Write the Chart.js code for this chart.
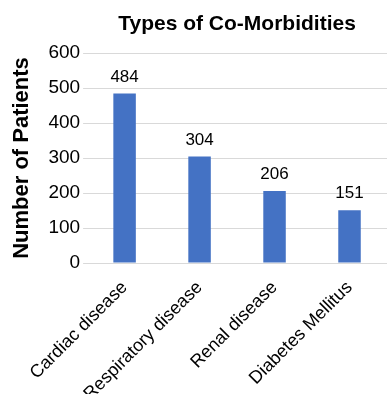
<!DOCTYPE html>
<html>
<head>
<meta charset="utf-8">
<script src="https://cdn.jsdelivr.net/npm/chart.js@4.4.0/dist/chart.umd.min.js"></script>
<style>
  html, body { margin: 0; padding: 0; background: #fff; }
  #wrap { width: 387px; height: 394px; }
</style>
</head>
<body>
<div id="wrap"><canvas id="myChart"></canvas></div>
<script>
const categories = ["Cardiac disease", "Respiratory disease", "Renal disease", "Diabetes Mellitus"];
const patients = [484, 304, 206, 151];
const yTicks = [0, 100, 200, 300, 400, 500, 600];

var fontFamily = '"Liberation Sans", Arial, sans-serif';

// title centred over the plot area, like the original
const titlePlugin = {
  id: 'plotTitle',
  afterDraw(chart) {
    var ctx = chart.ctx;
    var area = chart.chartArea;
    ctx.save();
    ctx.font = 'bold 21px ' + fontFamily;
    ctx.fillStyle = '#000';
    ctx.textAlign = 'center';
    ctx.textBaseline = 'middle';
    ctx.fillText('Types of Co-Morbidities', (area.left + area.right) / 2, 24);
    ctx.restore();
  }
};

// value labels above each bar
const valuePlugin = {
  id: 'valueLabels',
  afterDatasetsDraw(chart) {
    var ctx = chart.ctx;
    var meta = chart.getDatasetMeta(0);
    ctx.save();
    ctx.font = '17px ' + fontFamily;
    ctx.fillStyle = '#000';
    ctx.textAlign = 'center';
    ctx.textBaseline = 'bottom';
    meta.data.forEach(function(bar, i) {
      ctx.fillText(String(patients[i]), bar.x, bar.y - 8);
    });
    ctx.restore();
  }
};

new Chart(document.getElementById('myChart'), {
  type: 'bar',
  data: {
    labels: categories,
    datasets: [{
      data: patients,
      backgroundColor: '#4472C4',
      barPercentage: 0.3,
      categoryPercentage: 1.0
    }]
  },
  options: {
    responsive: true,
    maintainAspectRatio: false,
    animation: false,
    layout: { padding: { top: 53, right: 0, left: 9, bottom: 0 } },
    plugins: {
      legend: { display: false },
      tooltip: { enabled: false },
      title: { display: false }
    },
    scales: {
      x: {
        grid: { display: false, drawTicks: false },
        border: { color: '#d9d9d9' },
        ticks: {
          color: '#000',
          font: { family: fontFamily, size: 18 },
          maxRotation: 45,
          minRotation: 45,
          padding: 14
        },
        // labels run off the bottom edge in the original, so fix the axis height
        afterFit(axis) {
          axis.height = 131;
        }
      },
      y: {
        min: yTicks[0],
        max: yTicks[yTicks.length - 1],
        afterBuildTicks(axis) {
          axis.ticks = yTicks.map(function(v) { return { value: v }; });
        },
        grid: { color: '#d9d9d9', drawTicks: true, tickLength: 4 },
        border: { display: false },
        ticks: {
          color: '#000',
          padding: 3,
          font: { family: fontFamily, size: 19 }
        },
        title: {
          display: true,
          text: 'Number of Patients',
          color: '#000',
          font: { family: fontFamily, size: 22, weight: 'bold' },
          padding: { top: 0, bottom: 10 }
        }
      }
    }
  },
  plugins: [titlePlugin, valuePlugin]
});
</script>
</body>
</html>
